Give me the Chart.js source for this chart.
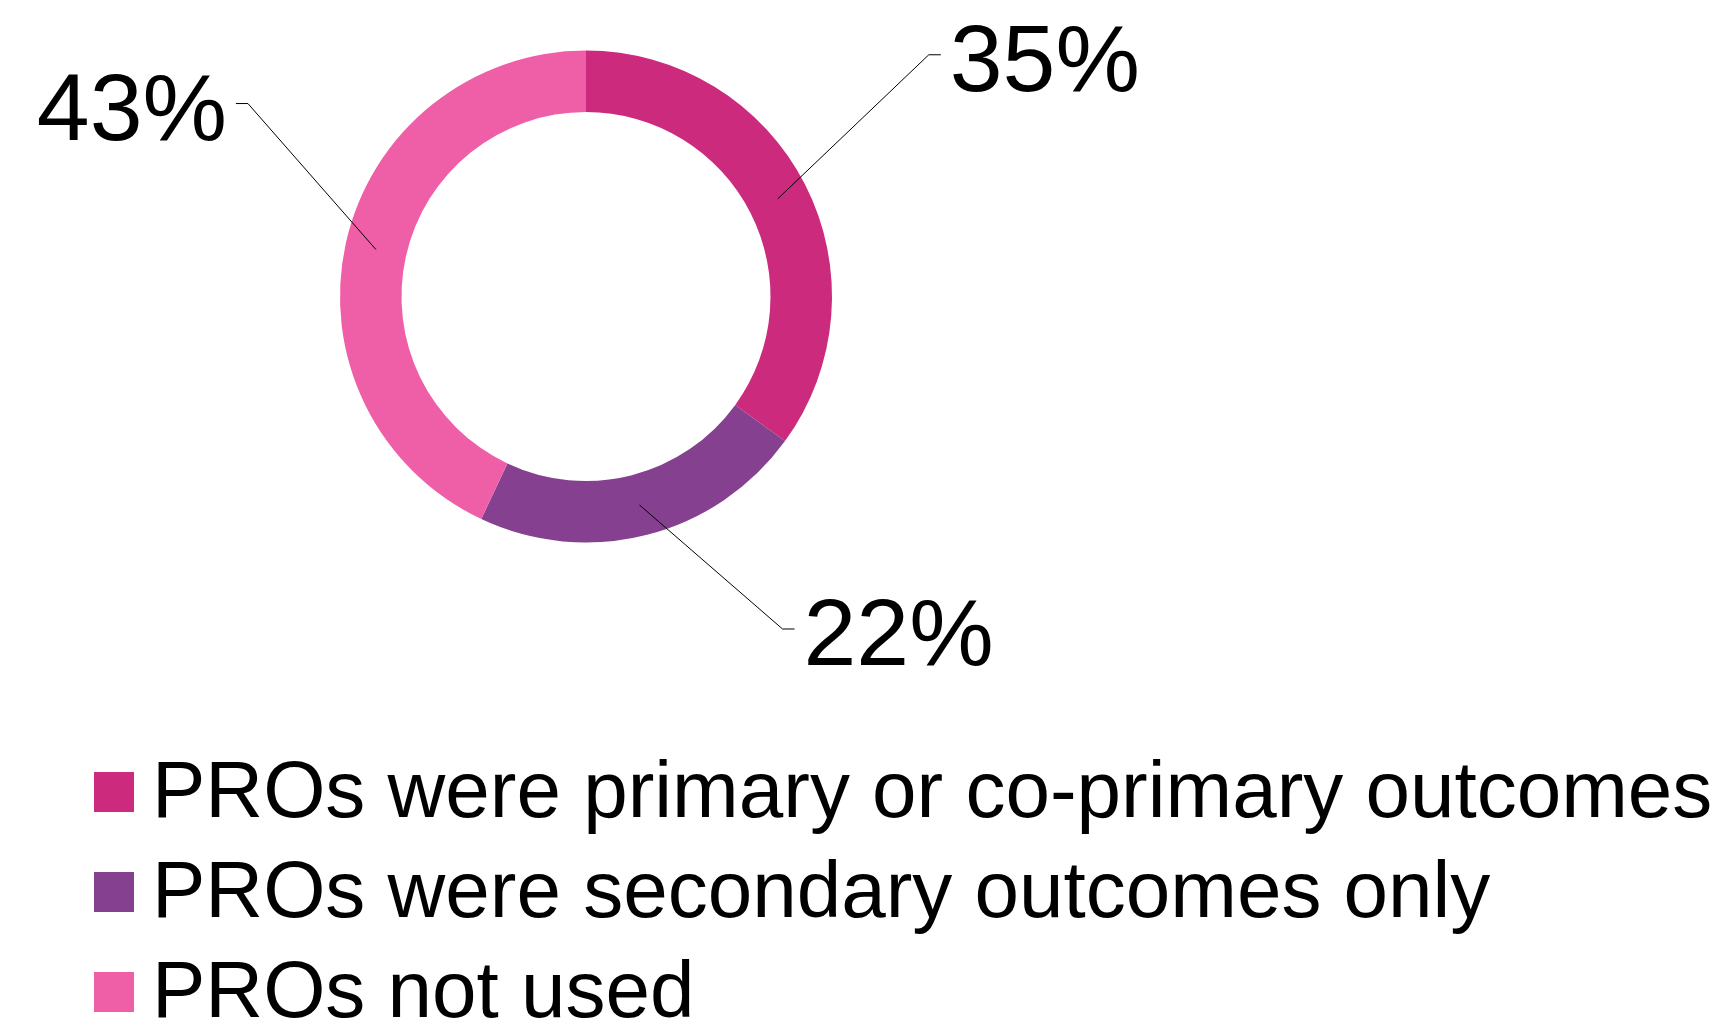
<!DOCTYPE html>
<html>
<head>
<meta charset="utf-8">
<title>PRO use in trials</title>
<script src="https://cdn.jsdelivr.net/npm/chart.js@4/dist/chart.umd.min.js"></script>
<style>
  html, body { margin: 0; padding: 0; background: #fff; }
  #proChart { display: block; }
</style>
</head>
<body>
<canvas id="proChart" width="1722" height="1026"></canvas>
<script>
// Data
const categories = [
  'PROs were primary or co-primary outcomes',
  'PROs were secondary outcomes only',
  'PROs not used',
];
const shares = [35, 22, 43];

// Styles
const sliceColors = ['#cc2a7c', '#85418f', '#ef5fa7'];
const calloutOffsets = [[151, -144], [143, 124], [-128, -146]]; // anchor -> elbow
const FONT = '"Liberation Sans", Arial, sans-serif';

// Percent labels with leader lines
const calloutPlugin = {
  id: 'callouts',
  afterDatasetsDraw(chart) {
    const ctx = chart.ctx;
    const meta = chart.getDatasetMeta(0);
    ctx.save();
    meta.data.forEach((arc, i) => {
      const p = arc.getProps(['x', 'y', 'startAngle', 'endAngle', 'innerRadius', 'outerRadius'], true);
      const mid = (p.startAngle + p.endAngle) / 2;
      const r = (p.innerRadius + p.outerRadius) / 2;
      const ax = p.x + Math.cos(mid) * r;
      const ay = p.y + Math.sin(mid) * r;
      const ex = ax + calloutOffsets[i][0];
      const ey = ay + calloutOffsets[i][1];
      const dir = calloutOffsets[i][0] >= 0 ? 1 : -1;
      const hx = ex + dir * 12;

      ctx.strokeStyle = '#000';
      ctx.lineWidth = 1;
      ctx.beginPath();
      ctx.moveTo(ax, ay);
      ctx.lineTo(ex, ey);
      ctx.lineTo(hx, ey);
      ctx.stroke();

      ctx.fillStyle = '#000';
      ctx.font = '95px ' + FONT;
      ctx.textAlign = dir > 0 ? 'left' : 'right';
      ctx.textBaseline = 'alphabetic';
      ctx.fillText(chart.data.datasets[0].data[i] + '%', hx + dir * 9, ey + 36);
    });
    ctx.restore();
  },
};

// Legend under the doughnut
const legendPlugin = {
  id: 'sideLegend',
  afterDraw(chart) {
    const ctx = chart.ctx;
    ctx.save();
    ctx.font = '80px ' + FONT;
    ctx.textAlign = 'left';
    ctx.textBaseline = 'alphabetic';
    chart.data.labels.forEach((label, i) => {
      const top = 772 + i * 100;
      ctx.fillStyle = chart.data.datasets[0].backgroundColor[i];
      ctx.fillRect(94, top, 40, 40);
      ctx.fillStyle = '#000';
      ctx.fillText(label, 152, top + 45);
    });
    ctx.restore();
  },
};

new Chart(document.getElementById('proChart'), {
  type: 'doughnut',
  data: {
    labels: categories,
    datasets: [{
      data: shares,
      backgroundColor: sliceColors,
      borderWidth: 0,
    }],
  },
  options: {
    responsive: false,
    animation: false,
    cutout: '75%',
    layout: {
      padding: { left: 340, right: 890, top: 50, bottom: 483 },
    },
    plugins: {
      legend: { display: false },
      tooltip: { enabled: false },
    },
  },
  plugins: [calloutPlugin, legendPlugin],
});
</script>
</body>
</html>
